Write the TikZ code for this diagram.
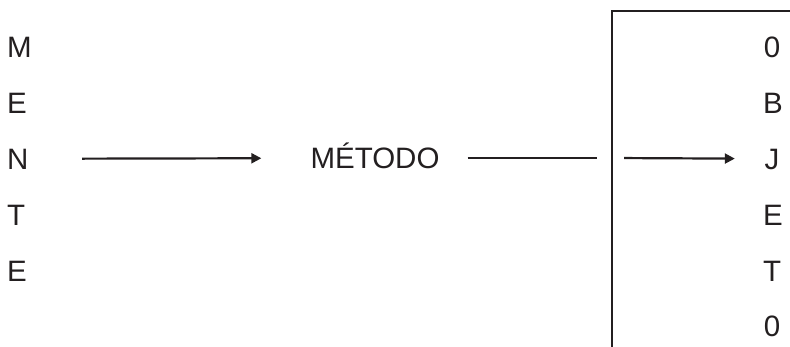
\documentclass[tikz,border=0pt]{standalone}
\usepackage{fontspec}
\setmainfont{Liberation Sans}
\usetikzlibrary{positioning,arrows.meta}
\definecolor{ink}{RGB}{35,31,32}

\begin{document}
\begin{tikzpicture}[x=1pt, y=-1pt, node distance=34.5pt,
    letter/.style={font=\fontsize{29.5}{34}\selectfont, text=ink, inner sep=0pt,
        text height=21pt, text depth=0pt},
    leftcol/.style={letter, text width=24pt, align=left},
    rightcol/.style={letter, text width=18pt, align=center},
    plain/.style={draw=ink, line width=2.2pt},
    link/.style={plain, -{Triangle[length=10pt,width=10pt]}}]
    \useasboundingbox (0,0) rectangle (790,347);

    % mente
    \node [leftcol] (m1) at (19,47) {M};
    \node [leftcol, below=of m1] (m2) {E};
    \node [leftcol, below=of m2] (m3) {N};
    \node [leftcol, below=of m3] (m4) {T};
    \node [leftcol, below=of m4] (m5) {E};

    \node [letter] (metodo) at (375,158) {MÉTODO};

    % objeto
    \node [rightcol] (o1) at (772,47) {0};
    \node [rightcol, below=of o1] (o2) {B};
    \node [rightcol, below=of o2] (o3) {J};
    \node [rightcol, below=of o3] (o4) {E};
    \node [rightcol, below=of o4] (o5) {T};
    \node [rightcol, below=of o5] (o6) {0};

    \coordinate (wall-top) at (612,11);
    \coordinate (wall-bot) at (612,347);
    \coordinate (wall-end) at (790,11);
    \draw [plain] (wall-bot) -- (wall-top) -- (wall-end);

    \draw [link, shorten <=51pt, shorten >=49pt] (m3) -- (metodo);
    \draw [plain, shorten <=28pt, shorten >=15pt] (metodo) -- (metodo -| wall-top);
    \draw [link, shorten <=12pt, shorten >=28pt] (metodo -| wall-top) -- (o3);
\end{tikzpicture}
\end{document}
